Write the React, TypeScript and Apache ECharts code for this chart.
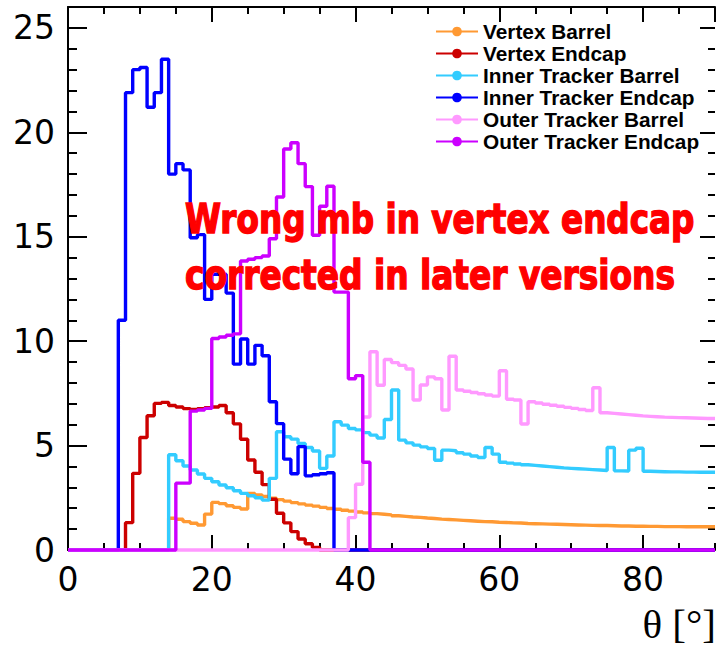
import React, { useEffect, useRef } from "react";
import * as echarts from "echarts";

// Histograms: 1-degree bins from 0 to 90 (value of bin i covers [i, i+1))
const seriesNames = [
  "Vertex Barrel",
  "Vertex Endcap",
  "Inner Tracker Barrel",
  "Inner Tracker Endcap",
  "Outer Tracker Barrel",
  "Outer Tracker Endcap",
];
const seriesColors = ["#ff9933", "#cc0000", "#33ccff", "#0000ff", "#ff99ff", "#cc00ff"];

const vertexBarrel = [
  0, 0, 0, 0, 0, 0, 0, 0, 0, 0, 0, 0, 0, 0,
  1.52, 1.47, 1.36, 1.28, 1.2, 1.72, 2.28, 2.22, 2.12, 2.04, 1.96, 2.71, 2.64, 2.56, 2.48, 2.41,
  2.34, 2.27, 2.21, 2.15, 2.1, 2.04, 1.99, 1.95, 1.9, 1.86, 1.82, 1.78, 1.74, 1.71, 1.68, 1.64,
  1.61, 1.58, 1.56, 1.53, 1.51, 1.48, 1.46, 1.44, 1.42, 1.4, 1.38, 1.36, 1.35, 1.33, 1.32, 1.3,
  1.29, 1.27, 1.26, 1.25, 1.24, 1.23, 1.22, 1.21, 1.2, 1.19, 1.18, 1.17, 1.17, 1.16, 1.15, 1.15,
  1.14, 1.14, 1.13, 1.13, 1.12, 1.12, 1.12, 1.11, 1.11, 1.11, 1.11, 1.11,
];
const vertexEndcap = [
  0, 0, 0, 0, 0, 0, 0, 0,
  1.31, 3.67, 5.39, 6.43, 7.02, 7.07, 6.92, 6.85, 6.77, 6.73, 6.77, 6.81, 6.85, 6.92, 6.57, 6.04,
  5.3, 4.31, 3.72, 3.13, 2.43, 1.76, 1.3, 0.88, 0.53, 0.3, 0.12,
  0, 0, 0, 0, 0, 0, 0, 0, 0, 0, 0, 0, 0, 0, 0, 0, 0, 0, 0, 0, 0, 0, 0, 0, 0, 0, 0, 0,
  0, 0, 0, 0, 0, 0, 0, 0, 0, 0, 0, 0, 0, 0, 0, 0, 0, 0, 0, 0, 0, 0, 0, 0, 0, 0, 0,
];
const innerBarrel = [
  0, 0, 0, 0, 0, 0, 0, 0, 0, 0, 0, 0, 0, 0,
  4.56, 4.27, 4.02, 3.83, 3.64, 3.43, 3.27, 3.11, 2.98, 2.84, 2.71, 2.6, 2.5, 2.39, 3.43, 5.66,
  5.42, 5.31, 5.1, 4.91, 4.74, 3.91, 4.5, 6.14, 5.98, 5.82, 5.75, 5.62, 5.5, 5.36, 6.25, 7.66,
  5.26, 5.13, 5.02, 4.94, 4.86, 4.3, 4.78, 4.75, 4.66, 4.59, 4.5, 4.43, 4.91, 4.59, 4.2, 4.16,
  4.12, 4.08, 4.05, 4.02, 3.99, 3.96, 3.93, 3.91, 3.89, 3.87, 3.85, 3.83, 3.81, 4.91, 3.79, 3.78,
  4.78, 4.87, 3.77, 3.76, 3.75, 3.74, 3.74, 3.73, 3.73, 3.72, 3.72, 3.72,
];
const innerEndcap = [
  0, 0, 0, 0, 0, 0, 0,
  11.0, 21.9, 23.0, 23.1, 21.2, 21.9, 23.5, 18.0, 18.5, 18.2, 14.95, 15.1, 12.0, 13.2, 13.2, 12.3,
  8.9, 10.1, 8.9, 9.8, 9.3, 7.1, 6.05, 4.35, 3.65, 4.95, 3.55, 3.6, 3.65, 3.7,
  0, 0, 0, 0, 0, 0, 0, 0, 0, 0, 0, 0, 0, 0, 0, 0, 0, 0, 0, 0, 0, 0, 0, 0, 0, 0, 0,
  0, 0, 0, 0, 0, 0, 0, 0, 0, 0, 0, 0, 0, 0, 0, 0, 0, 0, 0, 0, 0, 0, 0, 0, 0, 0,
];
const outerBarrel = [
  0, 0, 0, 0, 0, 0, 0, 0, 0, 0, 0, 0, 0, 0, 0, 0, 0, 0, 0, 0,
  0, 0, 0, 0, 0, 0, 0, 0, 0, 0, 0, 0, 0, 0, 0, 0, 0, 0, 0,
  1.55, 3.15, 6.37, 9.49, 7.89, 9.12, 8.97, 8.84, 8.67, 7.18, 7.9, 8.29, 8.2, 6.7, 9.28, 7.66,
  7.6, 7.54, 7.48, 7.42, 7.37, 8.58, 7.22, 7.18, 6.03, 7.1, 7.04, 6.98, 6.93, 6.88, 6.83, 6.78,
  6.73, 6.68, 7.77, 6.57, 6.54, 6.51, 6.48, 6.45, 6.42, 6.4, 6.38, 6.36, 6.35, 6.34, 6.33, 6.32,
  6.31, 6.3, 6.3,
];
const outerEndcap = [
  0, 0, 0, 0, 0, 0, 0, 0, 0, 0, 0, 0, 0, 0, 0,
  3.2, 3.2, 6.65, 6.7, 6.78, 10.13, 10.2, 10.28, 10.35, 13.84, 13.92, 14.0, 14.08, 14.9, 16.9,
  19.2, 19.5, 18.5, 17.4, 15.07, 16.46, 17.42, 12.35, 12.35, 8.2, 8.35, 4.2,
  0, 0, 0, 0, 0, 0, 0, 0, 0, 0, 0, 0, 0, 0, 0, 0, 0, 0, 0, 0, 0, 0, 0, 0,
  0, 0, 0, 0, 0, 0, 0, 0, 0, 0, 0, 0, 0, 0, 0, 0, 0, 0, 0, 0, 0, 0, 0, 0,
];
const seriesValues = [vertexBarrel, vertexEndcap, innerBarrel, innerEndcap, outerBarrel, outerEndcap];

const annotationLines = ["Wrong mb in vertex endcap", "corrected in later versions"];
const xAxisTitle = "θ [°]";

const X_MIN = 0;
const X_MAX = 90;
const Y_MIN = 0;
const Y_MAX = 26;

function toSteps(values: number[]): number[][] {
  const pts = values.map((v, i) => [X_MIN + i, v]);
  pts.push([X_MIN + values.length, values[values.length - 1]]);
  return pts;
}

const GRID = { left: 68, right: 2, top: 7, bottom: 102 };
const BLACK = "#000";

function xAxisDef(gridIndex: number, position: string, interval: number, tickLen: number, labels: boolean, line: boolean) {
  return {
    type: "value",
    gridIndex,
    position,
    min: X_MIN,
    max: X_MAX,
    interval,
    axisLine: { show: line, onZero: false, lineStyle: { color: BLACK, width: 2 } },
    axisTick: { show: true, inside: true, length: tickLen, lineStyle: { color: BLACK, width: 2 } },
    axisLabel: {
      show: labels,
      margin: 13,
      fontSize: 33,
      fontFamily: "DejaVu Sans",
      color: BLACK,
      showMaxLabel: false,
    },
    splitLine: { show: false },
  };
}

function yAxisDef(gridIndex: number, position: string, interval: number, tickLen: number, labels: boolean, line: boolean) {
  return {
    type: "value",
    gridIndex,
    position,
    min: Y_MIN,
    max: Y_MAX,
    interval,
    axisLine: { show: line, onZero: false, lineStyle: { color: BLACK, width: 2 } },
    axisTick: { show: true, inside: true, length: tickLen, lineStyle: { color: BLACK, width: 2 } },
    axisLabel: {
      show: labels,
      margin: 13,
      fontSize: 33,
      fontFamily: "DejaVu Sans",
      color: BLACK,
      showMaxLabel: false,
    },
    splitLine: { show: false },
  };
}

const annotationStyle = {
  fill: "#ff0000",
  stroke: "#ff0000",
  lineWidth: 1.4,
  fontSize: 41,
  fontWeight: "bold",
  fontFamily: "DejaVu Sans Condensed",
  align: "left",
  verticalAlign: "middle",
};

export default function App() {
  const ref = useRef<HTMLDivElement>(null);

  useEffect(() => {
    if (!ref.current) return;
    const chart = echarts.init(ref.current, null, { renderer: "svg" });
    const option: any = {
      animation: false,
      backgroundColor: "#ffffff",
      grid: [
        { ...GRID, containLabel: false },
        { ...GRID, containLabel: false },
      ],
      xAxis: [
        xAxisDef(0, "bottom", 20, 15, true, true),
        xAxisDef(0, "top", 20, 15, false, true),
        xAxisDef(1, "bottom", 5, 7, false, false),
        xAxisDef(1, "top", 5, 7, false, false),
      ],
      yAxis: [
        yAxisDef(0, "left", 5, 19, true, true),
        yAxisDef(0, "right", 5, 15, false, false),
        yAxisDef(1, "left", 1, 9, false, false),
        yAxisDef(1, "right", 1, 7, false, false),
      ],
      legend: {
        orient: "vertical",
        left: 435,
        top: 21,
        padding: 0,
        itemWidth: 42,
        itemHeight: 12,
        itemGap: 1,
        selectedMode: false,
        data: seriesNames,
        textStyle: {
          fontSize: 20.8,
          fontWeight: "bold",
          fontFamily: "Liberation Sans",
          color: BLACK,
        },
      },
      series: seriesNames.map((name, k) => ({
        name,
        type: "line",
        xAxisIndex: 0,
        yAxisIndex: 0,
        step: "end",
        symbol: "circle",
        symbolSize: 10,
        showSymbol: false,
        clip: false,
        silent: true,
        lineStyle: { color: seriesColors[k], width: 3.4 },
        itemStyle: { color: seriesColors[k] },
        emphasis: { disabled: true },
        data: toSteps(seriesValues[k]),
      })),
      graphic: [
        {
          type: "text",
          x: 185,
          y: 219,
          scaleX: 0.885,
          z: 100,
          style: { ...annotationStyle, text: annotationLines[0] },
        },
        {
          type: "text",
          x: 185,
          y: 275,
          scaleX: 0.89,
          z: 100,
          style: { ...annotationStyle, text: annotationLines[1] },
        },
        {
          type: "text",
          x: 716,
          y: 624,
          style: {
            text: xAxisTitle,
            fill: BLACK,
            fontSize: 41,
            fontFamily: "Liberation Serif",
            align: "right",
            verticalAlign: "middle",
          },
        },
      ],
    };
    chart.setOption(option);
    return () => chart.dispose();
  }, []);

  return (
    <div
      ref={ref}
      style={{ position: "absolute", left: 0, top: 0, width: 717, height: 652, background: "#fff" }}
    />
  );
}
